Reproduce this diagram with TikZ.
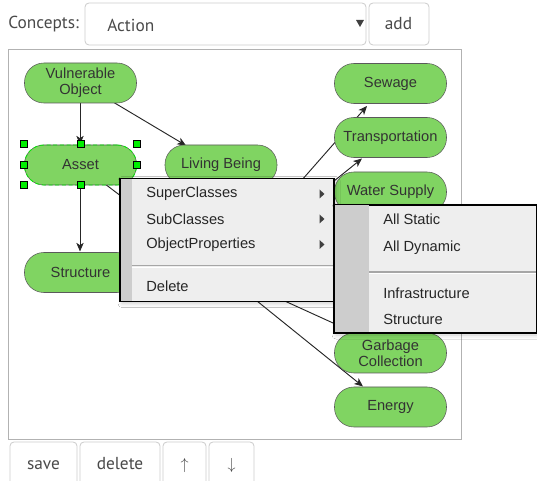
\documentclass[tikz,border=0pt]{standalone}
\usepackage{fontspec}
\setmainfont{Liberation Sans}
\newfontfamily\uifont{PT Sans}
\usetikzlibrary{arrows.meta,shadows.blur}
\definecolor{nodegreen}{HTML}{80D462}
\definecolor{nodeborder}{HTML}{5A5A5A}
\definecolor{uitext}{HTML}{4A4A4A}
\definecolor{uiborder}{HTML}{CCCCCC}
\definecolor{menufill}{HTML}{EEEEEE}
\definecolor{menubar}{HTML}{CDCDCD}
\definecolor{selgreen}{HTML}{00EE00}
\tikzset{
  concept/.style={draw=nodeborder, fill=nodegreen, rounded corners=14.5pt,
    minimum width=84pt, minimum height=30pt, inner sep=0pt, align=center,
    font=\fontsize{11}{12.2}\selectfont, text=black!80},
  edge/.style={draw=black!85, line width=0.7pt, -{Stealth[length=6.5pt,width=5.5pt,inset=1.8pt]}},
  handle/.style={draw=black, fill=selgreen, minimum size=5.2pt, inner sep=0pt, line width=0.5pt},
  menubox/.style={draw=black, line width=0.8pt, fill=menufill,
    blur shadow={shadow xshift=1.5pt, shadow yshift=-1.5pt, shadow blur radius=3pt, shadow opacity=20}},
  menuitem/.style={anchor=west, font=\fontsize{11}{12}\selectfont, text=black!85, inner sep=0pt},
  menuarrow/.style={fill=black!75, draw=none},
  uibutton/.style={draw=uiborder, line width=0.6pt, rounded corners=3pt, fill=white},
  uilabel/.style={font=\uifont\fontsize{13}{15}\selectfont, text=uitext, inner sep=0pt},
}
\begin{document}
\begin{tikzpicture}[x=0.75pt,y=-0.75pt]
\useasboundingbox (0,0) rectangle (537,481);
\clip (0,0) rectangle (537,481);
\fill[white] (0,0) rectangle (537,481);

% top toolbar
\node[uilabel, anchor=west] (conceptslabel) at (8,24) {Concepts:};
\draw[uibutton] (85,3) rectangle (366,45);
\node[uilabel, anchor=west] (actionlabel) at (107,25) {Action};
\fill[black!75] (356,20) -- (364,20) -- (360,27) -- cycle;
\draw[uibutton] (369,3) rectangle (429,45);
\node[uilabel] (addlabel) at (398.5,24) {add};

% canvas
\draw[draw=black!30, line width=0.7pt] (8,49) rectangle (461,439);

% hidden node position behind the menu
\coordinate (infra) at (221,272);

% edges (drawn first)
\path[edge] (80,103) -- (80,144.5);
\path[edge] (80,185) -- (80,251.5);
\path[edge] (infra) -- (367,106);
\path[edge] (infra) -- (362,158.5);
\path[edge] (infra) -- (370,212);
\path[edge] (infra) -- (355,333);
\path[edge] (infra) -- (363,386.5);
\path[edge] (80,165) -- (infra);
\path[edge] (108,99) -- (186,145.5);

% concept nodes
\node[concept] (vo) at (80.5,83) {Vulnerable\\Object};
\node[concept] (asset) at (80.5,165) {Asset};
\node[concept, fill=none, draw=selgreen, dashed, dash pattern=on 3pt off 2pt, line width=0.6pt] (assetsel) at (80.5,165) {\phantom{Asset}};
\node[concept] (lb) at (221,165) {Living Being};
\node[concept] (struct) at (80.5,272.5) {Structure};
\node[concept] (sewage) at (390.5,83.5) {Sewage};
\node[concept] (transp) at (390.5,137.5) {Transportation};
\node[concept] (water) at (390.5,192) {Water Supply};
\node[concept] (garbage) at (390.5,353) {Garbage\\Collection};
\node[concept] (energy) at (390.5,407) {Energy};

% selection handles on Asset
\foreach \hx/\hy [count=\i] in {24/144,81/144,137/144,24/165,137/165,24/185,81/185,137/185}
  \node[handle] (h\i) at (\hx,\hy) {};

% context menu
\path[menubox] (120,178.5) rectangle (334,301.5);
\fill[menubar] (120.5,179) rectangle (131.5,301);
\draw[black!35, line width=0.8pt] (131.5,265.5) -- (333.5,265.5);
\draw[white, line width=0.6pt] (131.5,267) -- (333.5,267);
\node[menuitem] (superc) at (146,194) {SuperClasses};
\node[menuitem] (subc) at (146,219) {SubClasses};
\node[menuitem] (objp) at (146,244.5) {ObjectProperties};
\node[menuitem] (del) at (146,286.5) {Delete};
\foreach \my in {194,219,244.5}
  \fill[menuarrow] (319.5,\my-4.5) -- (324.5,\my) -- (319.5,\my+4.5) -- cycle;

% submenu
\path[menubox] (334,205) rectangle (536.5,333);
\fill[menubar] (334.5,205.5) rectangle (369,332.5);
\draw[black!35, line width=0.8pt] (369,272) -- (536,272);
\draw[white, line width=0.6pt] (369,273.5) -- (536,273.5);
\node[menuitem] (allstatic) at (383,219.5) {All Static};
\node[menuitem] (alldyn) at (383,247.5) {All Dynamic};
\node[menuitem] (infraitem) at (383,293.5) {Infrastructure};
\node[menuitem] (structitem) at (383,319.5) {Structure};

% bottom buttons
\draw[uibutton] (10,500) -- (10,442) -- (77,442) -- (77,500);
\node[uilabel] (savelabel) at (43.5,465) {save};
\draw[uibutton] (80,500) -- (80,442) -- (160,442) -- (160,500);
\node[uilabel] (deletelabel) at (120,464) {delete};
\draw[uibutton] (163,500) -- (163,442) -- (206,442) -- (206,500);
\node[font=\fontsize{12}{14}\selectfont, text=uitext] (uplabel) at (184.5,466) {$\uparrow$};
\draw[uibutton] (209,500) -- (209,442) -- (254,442) -- (254,500);
\node[font=\fontsize{12}{14}\selectfont, text=uitext] (downlabel) at (231.5,466) {$\downarrow$};
\end{tikzpicture}
\end{document}
